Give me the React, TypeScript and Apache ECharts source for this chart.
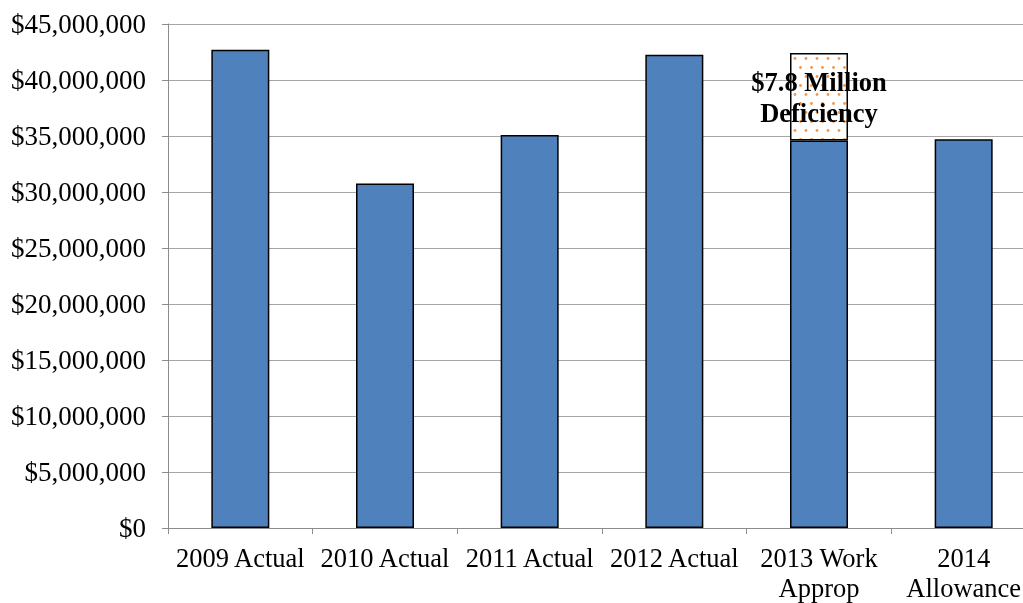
import React, { useEffect, useRef } from "react";
import * as echarts from "echarts";

const categories = ["2009 Actual", "2010 Actual", "2011 Actual", "2012 Actual", "2013 Work\nApprop", "2014\nAllowance"];
const baseValues = [42700000, 30750000, 35100000, 42250000, 34600000, 34700000];
const deficiencyValues: (number | string)[] = ["-", "-", "-", "-", 7800000, "-"];
const deficiencyLabel = "$7.8 Million\nDeficiency";

function makePattern(): HTMLCanvasElement {
  const c = document.createElement("canvas");
  c.width = 11;
  c.height = 18;
  const ctx = c.getContext("2d")!;
  ctx.fillStyle = "#ffffff";
  ctx.fillRect(0, 0, 11, 18);
  ctx.fillStyle = "#f79646";
  ctx.beginPath();
  ctx.arc(3, 4.5, 1.4, 0, Math.PI * 2);
  ctx.fill();
  ctx.beginPath();
  ctx.arc(8.5, 13.5, 1.4, 0, Math.PI * 2);
  ctx.fill();
  return c;
}

export default function App() {
  const ref = useRef<HTMLDivElement>(null);
  useEffect(() => {
    const chart = echarts.init(ref.current!, null, { renderer: "svg" });
    const font = "'Liberation Serif', 'Times New Roman', serif";
    chart.setOption({
      animation: false,
      textStyle: { fontFamily: font },
      grid: { left: 168, width: 868, top: 24, bottom: 75, containLabel: false, outerBoundsMode: "none" },
      xAxis: {
        type: "category",
        data: categories,
        axisLine: { show: true, lineStyle: { color: "#8c8c8c", width: 1 } },
        axisTick: { show: true, length: 6, lineStyle: { color: "#8c8c8c" } },
        axisLabel: { color: "#000", fontSize: 26.5, fontFamily: font, margin: 15, lineHeight: 30, interval: 0 },
      },
      yAxis: {
        type: "value",
        min: 0,
        max: 45000000,
        interval: 5000000,
        axisLine: { show: true, lineStyle: { color: "#8c8c8c", width: 1 } },
        axisTick: { show: true, length: 6, lineStyle: { color: "#8c8c8c" } },
        splitLine: { show: true, lineStyle: { color: "#a6a6a6", width: 1 } },
        axisLabel: {
          color: "#000",
          fontSize: 27,
          fontFamily: font,
          margin: 22,
          formatter: (v: number) => "$" + v.toLocaleString("en-US"),
        },
      },
      series: [
        {
          type: "bar",
          stack: "total",
          data: baseValues,
          barWidth: 58,
          itemStyle: { color: "#4f81bd", borderColor: "#000", borderWidth: 1.5 },
        },
        {
          type: "bar",
          stack: "total",
          data: deficiencyValues,
          barWidth: 58,
          itemStyle: {
            color: { image: makePattern(), repeat: "repeat" } as any,
            borderColor: "#000",
            borderWidth: 1.5,
          },
          label: {
            show: true,
            position: "inside",
            offset: [0, 1],
            formatter: () => deficiencyLabel,
            color: "#000",
            fontWeight: "bold",
            fontSize: 26.5,
            lineHeight: 31,
            fontFamily: font,
          },
        },
      ],
    });
    return () => chart.dispose();
  }, []);
  return <div ref={ref} style={{ position: "fixed", left: 0, top: 0, width: 1023, height: 603 }} />;
}
